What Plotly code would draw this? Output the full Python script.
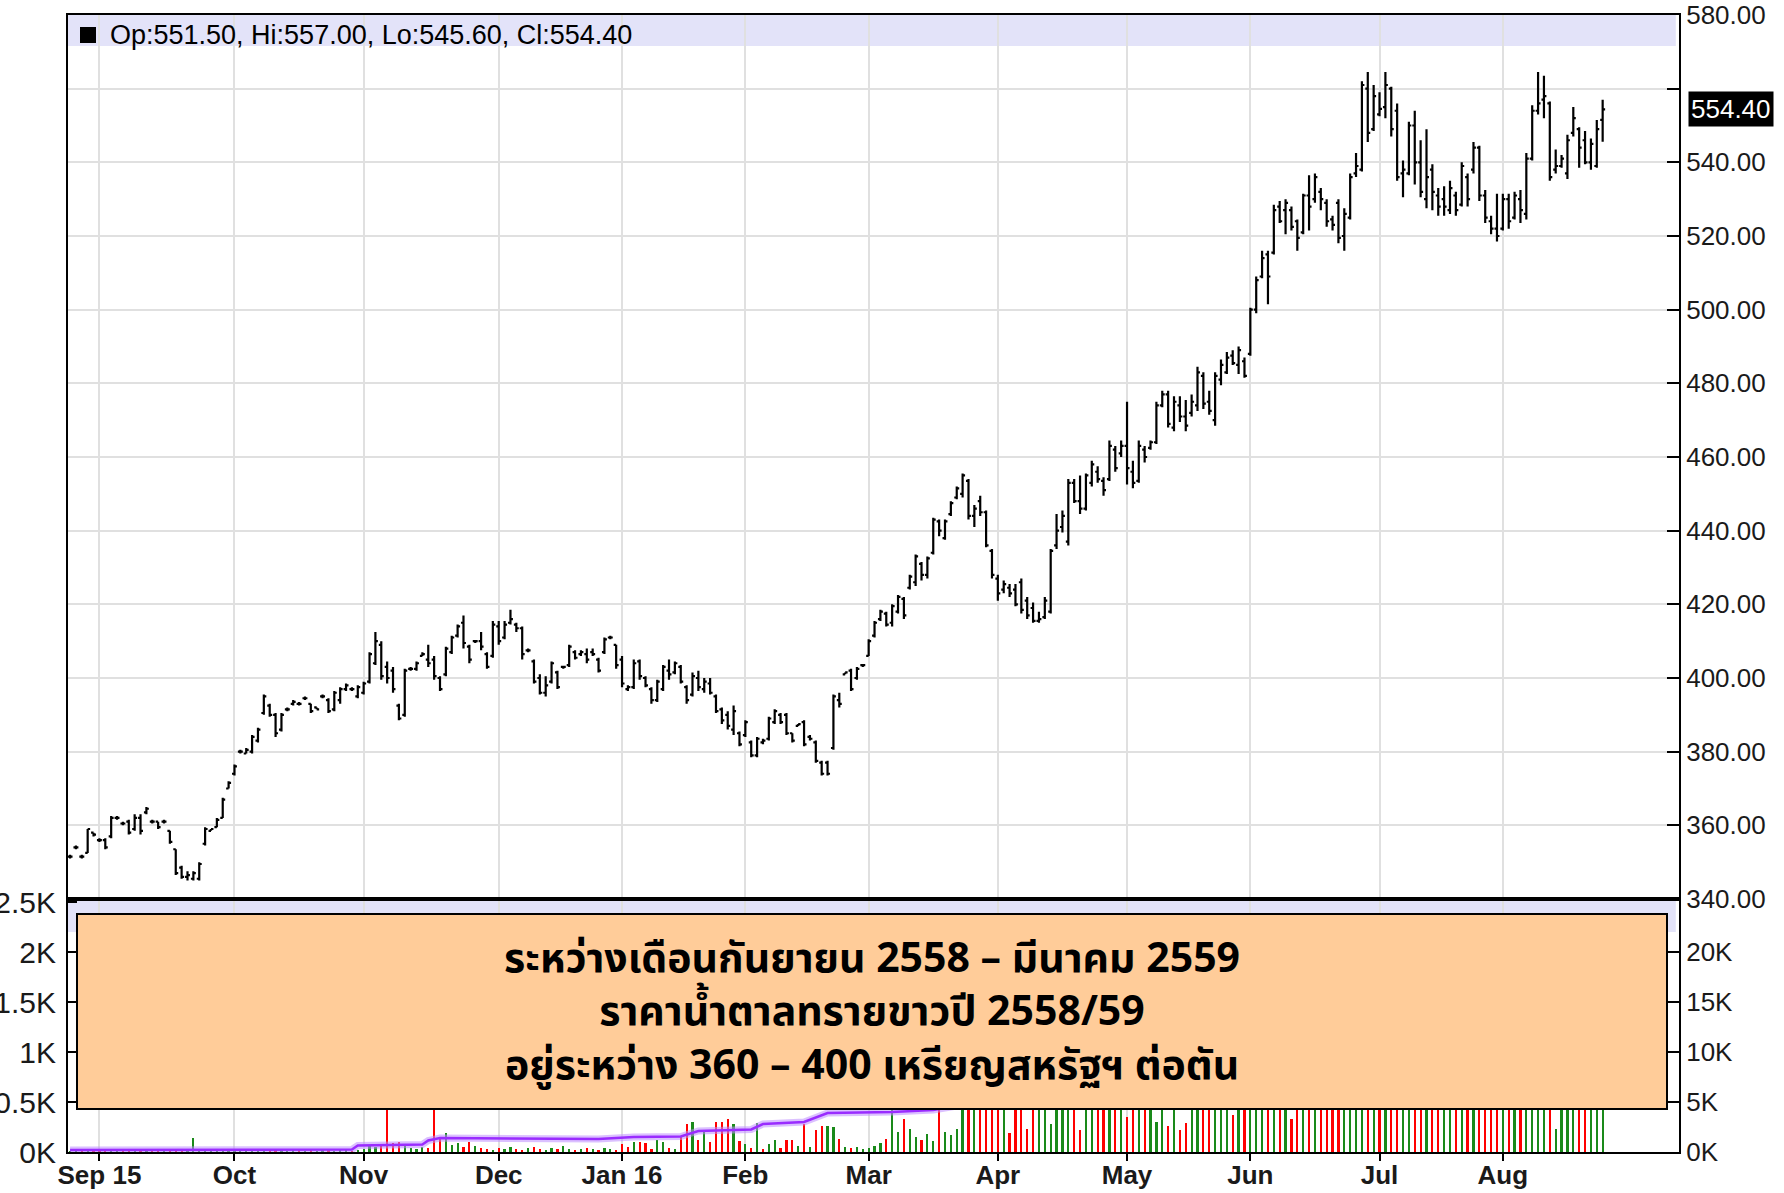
import plotly.graph_objects as go

# ---------------- data ----------------
highs = [
 352,354.5,352,359,358,356.5,356.5,362.5,362.5,361,
 361.5,363,363,365,361.5,361,361.5,358.5,353.5,349,
 347.5,347.5,350,359.5,359,362,367.5,372,376.5,380.5,
 381,384.5,386.5,395.5,393,390.5,390.5,392,394,393.5,
 395,393,392,395.5,394.5,396.5,397.5,398.5,397.5,398,
 399,407,412.5,410,404.5,403,393,402.5,403,404.5,
 407,409,406,400.5,408.5,411.5,414.5,417,409,410,
 412.5,407,415.5,415.5,415.5,418.5,415,414,408,405,
 401,400.5,404.5,402,403,409,407.5,407.5,408,408,
 405.5,411,411.5,409,406,398,405,405,400.5,397.5,
 399.5,403.5,405,404.5,403.5,398,401.5,402,400,400,
 395.5,392,391,392.5,385.5,388.5,383,384,383.5,389.5,
 391.5,390.5,390.5,385,387.5,388.5,384.5,383,377.5,377.5,
 395.5,396,401.5,402.5,403,403.5,410.5,415.5,418.5,418,
 420,422.5,422,428,433.5,431.5,433,443.5,443,443,
 448,452,455.5,454,447,449.5,445.5,435,428,426.5,
 425.5,425.5,427,422,420.5,418,422,435,444.5,445.5,
 454,454,455,455.5,459,457.5,454.5,464.5,463,464.5,
 475,459,464.5,463,464.5,475,478,478,476.5,476.5,
 475.5,477,484.5,483,478,483,486.5,488.5,489,490,
 487,500.5,509,516,516,528.5,529.5,530,528,524.5,
 531.5,536.5,537,533,530,525.5,530,527.5,537,542.5,
 562,564.5,561,559,564.5,560.5,556,540.5,551,554,
 546,549,539.5,533,533.5,535,532,540,537,545.5,
 544.5,532.5,525.5,531.5,531.5,531.5,532,532.5,542.5,555.5,
 564.5,563.5,556.5,543.5,542,547.5,555,549.5,548.5,546.5,
 551.5,557]
lows = [
 351,353.5,351,352.5,357,355.5,353.5,356.5,361.5,360,
 357.5,358.5,357.5,363,360.5,359,360.5,355,346.5,345.5,
 345,345,345,354.5,358.5,359.5,362,370,373.5,379.5,
 379.5,379.5,382.5,390,389.5,384,385.5,391,392.5,392.5,
 394,390.5,391.5,394.5,390.5,391,393,396.5,396.5,394.5,
 395.5,398.5,403.5,399.5,398.5,396,388.5,389.5,402,402,
 406,403,399.5,396.5,400.5,406.5,411,408,404,409.5,
 407.5,402.5,405.5,409,410.5,414.5,412.5,405,407,398.5,
 395.5,395,398.5,397,402.5,403,405,406,404,406,
 401.5,406.5,410.5,402.5,397.5,396.5,397,399.5,397.5,393,
 393.5,396.5,399.5,401,398.5,393,395,396.5,396,395.5,
 390.5,387.5,386,384.5,381.5,384,378.5,378.5,382,383,
 387.5,387.5,384.5,382.5,387,381.5,383,377,373.5,373.5,
 380.5,392,401,396.5,399.5,403,406,411,415.5,414,
 414,417.5,416,424,425,426.5,427,433.5,438.5,437.5,
 444,448.5,449,443,441,444,435.5,427,421,423,
 422,419.5,417.5,416,415,415,416,417.5,435,439.5,
 436,447.5,444.5,445.5,452,453,449.5,453.5,456,460,
 452.5,451.5,453,458.5,462,463.5,473.5,468,467,469.5,
 467,471,472.5,473,471.5,468.5,479.5,482.5,485,482.5,
 481.5,487.5,499,508.5,501.5,515,523.5,520.5,521.5,516,
 520.5,521.5,529,527,522.5,521.5,518,516,524.5,536,
 537.5,545.5,548.5,552.5,552,547,535,530.5,536.5,534,
 530.5,527.5,527,525.5,525.5,526,525.5,528,528,537,
 529.5,523.5,520.5,518.5,521.5,522,524.5,523.5,524.5,540.5,
 553,552,535,537,538.5,535.5,547,538.5,539.5,538,
 538.5,545.6]
opens = [
 351.5,354,351.5,352.5,358,356,356,357,362,360.5,
 361,359,362,363.5,361,361,361,358.5,353.5,348.5,
 346,345.5,345.5,355,358.5,359.5,362,370,374,380,
 379.5,380,383,390.5,392.5,390,386,391.5,393,393,
 394.5,393,392,395,394,391.5,394,397,397,395,
 396,399,404,409,403,402,392.5,390,402.5,402.5,
 406,405,405,400,401,407,411.5,415,408.5,410,
 410,406.5,406,414,411,415,414.5,413.5,407.5,404.5,
 400,396,399,401.5,403,403.5,407,406.5,406.5,407,
 405,407,411,409,405,397,397.5,404.5,400,397,
 394,397,402,401.5,403,397.5,395.5,400,397,398.5,
 395,391.5,390,386,385,384.5,382.5,379,382.5,383.5,
 388,390,390,385,387,388,384,382.5,377,377,
 381,394,401,402,400,403.5,406,411.5,416,417.5,
 415,418,421.5,424.5,426,431,428,434,442.5,438,
 444.5,449,450,453.5,444,448,445,434.5,427,424,
 424.5,424,426,421,419,415.5,416.5,418,436,441,
 437,453,448,446,453,456,453.5,454,462,461,
 463,456,453.5,462,462.5,464,474,477,468,474,
 471,472,474,482,475,470,481,483,487.5,485,
 486,488,500,509,515,515.5,528,527,527,524,
 521,531,530,532,529,524.5,529,520,525,537,
 538,560,549,553,555,560,554,537,537,550,
 540,530,538,531,530,527,531,528.5,536,538,
 544,531,524,522,522,530,525,530,526,541,
 554,557,556,538,539,537,548,549,546,540,
 539,551.5]
closes = [
 351.5,354,351.5,359,357.5,356,354,362,362,360.5,
 358,362,358.5,364.5,361,359.5,361,355.5,347,346,
 346.5,347,349.5,359,359,361.5,367,371.5,376,380,
 380.5,384,386,395,390,385,390,391.5,393.5,393,
 394.5,391,391.5,395,391,396,397,398,397,397.5,
 398.5,406.5,410,400.5,400,397,389,402,402.5,404,
 406.5,404,400.5,397,408,411,414,409.5,405,410,
 408.5,403,414.5,410,414.5,416,413.5,406.5,407.5,399,
 396,398,404,397.5,403,408.5,405.5,407,405,406.5,
 402,410.5,411,403.5,398.5,397.5,404,400.5,398,394,
 399,403,401,404,399,394,400.5,397.5,399,396,
 391,388.5,387,391,382,388,379,383.5,383,389,
 391,388,385,383,387.5,382,383.5,377.5,374,374,
 395,393,401.5,397,402.5,403.5,410,415,418,414.5,
 419.5,422,417,427.5,433,428,432.5,443,440,442.5,
 447.5,451.5,455,444,446,445,436,428,423,425.5,
 423,420,418.5,417,415.5,416,421,434.5,440,444,
 453,448,446,455,458,454,451,463,457,463,
 457,453,463,460,464,474,477,469,475,471,
 468.5,475,483,474.5,472.5,482,485,487,485.5,489,
 482,500,508,514,509,527,524,529,522.5,519.5,
 531,528,536,530,524,523,519.5,526,536,539,
 561,548,558,554.5,561,549,536,538,550,540,
 532,536,532,528,528,533,527,539,530,544,
 531,525,522,520,530,524,531,527,541,554,
 556,558,536,539,541,546,552,544,540,545,
 549,554.4]
volumes = [
 100,150,100,200,120,100,150,300,100,120,
 150,100,300,150,100,120,100,150,200,300,
 250,1400,150,200,300,150,100,200,150,120,
 100,150,200,250,200,150,200,100,150,120,
 100,150,100,200,150,100,120,150,100,200,
 300,700,500,800,5800,900,1000,600,400,300,
 500,400,6000,1500,1900,700,900,500,1000,600,
 400,300,200,400,300,500,300,200,400,500,
 300,200,400,300,600,300,200,300,400,300,
 200,400,300,200,800,500,1000,1000,900,300,
 1200,1000,400,300,1500,2800,3000,1200,2200,1000,
 3000,3000,3300,2800,1100,800,400,2900,300,800,
 1200,400,1200,1200,600,2800,500,2200,2600,2600,
 2500,1300,500,400,500,300,400,600,900,1300,
 6500,2000,3300,2300,1500,1200,1800,1100,7000,2000,
 1700,2300,7500,9000,10000,11000,12000,9000,10500,8000,
 1900,9500,11000,2300,9000,8500,10000,2800,9000,12000,
 8000,9500,2200,10000,9000,11000,8500,9500,10000,8000,
 3500,9000,10500,9500,11000,3000,8500,2600,9000,2200,
 2900,8000,9500,10000,9000,11000,9500,8500,3700,10000,
 9000,11000,12000,10500,9500,9000,10000,8500,3300,9500,
 10000,9000,8500,9500,10000,11000,9000,8500,10000,12000,
 14000,13000,11000,10000,12000,11000,10500,9500,10000,9000,
 9500,10000,8500,9000,9500,8000,9000,10500,9500,10000,
 11000,9500,10000,9000,8500,9000,9500,10000,11000,12000,
 13000,11000,10500,2300,9000,9500,10000,8500,9000,9500,
 10000,9000]
oi_bar = [0, 48, 49, 60, 61, 63, 90, 96, 104, 107, 116, 118, 125, 129, 140, 147, 160, 200, 261]
oi_val = [200, 250, 650, 750, 1150, 1400, 1300, 1500, 1550, 2100, 2250, 2800, 3000, 3900, 4000, 4200, 5500, 9000, 12000]

month_first_bar = [5, 28, 50, 73, 94, 115, 136, 158, 180, 201, 223, 244]
month_labels = ["Sep 15", "Oct", "Nov", "Dec", "Jan 16", "Feb", "Mar", "Apr", "May", "Jun", "Jul", "Aug"]
price_ticks = [340, 360, 380, 400, 420, 440, 460, 480, 500, 520, 540, 560, 580]
price_labels = ["340.00", "360.00", "380.00", "400.00", "420.00", "440.00", "460.00", "480.00",
                "500.00", "520.00", "540.00", "", "580.00"]
vol_ticks = [0, 5000, 10000, 15000, 20000]
vol_labels = ["0K", "5K", "10K", "15K", "20K"]
oi_ticks = [0, 500, 1000, 1500, 2000, 2500]
oi_labels = ["0K", "0.5K", "1K", "1.5K", "2K", "2.5K"]
legend_text = "Op:551.50, Hi:557.00, Lo:545.60, Cl:554.40"
last_price = 554.40
note_lines = ["ระหว่างเดือนกันยายน 2558 – มีนาคม 2559",
              "ราคาน้ำตาลทรายขาวปี 2558/59",
              "อยู่ระหว่าง 360 – 400 เหรียญสหรัฐฯ ต่อตัน"]

# ---------------- figure ----------------
n = len(closes)
xs = list(range(n))
vol_colors = ["#1a8a1a" if (i == 0 or closes[i] >= closes[i - 1]) else "#ff0000" for i in range(n)]

W, H = 1784, 1193
ML, MR, MT, MB = 68, 105, 15, 41
plot_h = H - MT - MB
split = (H - MB - 899) / plot_h  # price/volume boundary (paper fraction)
PPX = (W * 0 + 884) / 240.0      # price-panel pixels per price unit

def px_x(px):
    return (px - ML) / (W - ML - MR)

def px_y(py):
    return (H - MB - py) / plot_h

sans = "Liberation Sans, Arial, sans-serif"
tick_font = dict(family=sans, size=26, color="#1a1a1a")
grid_c = "#e0e0e0"

fig = go.Figure()
fig.add_trace(go.Ohlc(
    x=xs, open=opens, high=highs, low=lows, close=closes,
    xaxis="x2", yaxis="y",
    increasing=dict(line=dict(color="black", width=2.2)),
    decreasing=dict(line=dict(color="black", width=2.2)),
    tickwidth=0.42, hoverinfo="skip", showlegend=False))
fig.add_trace(go.Bar(
    x=xs, y=volumes, xaxis="x", yaxis="y2", width=0.38,
    marker=dict(color=vol_colors, line=dict(width=0)), showlegend=False))
fig.add_trace(go.Scatter(
    x=oi_bar, y=oi_val, xaxis="x", yaxis="y2", mode="lines",
    line=dict(color="rgba(190,140,255,0.55)", width=7), showlegend=False))
fig.add_trace(go.Scatter(
    x=oi_bar, y=oi_val, xaxis="x", yaxis="y2", mode="lines",
    line=dict(color="#9a2cff", width=2.5), showlegend=False))
# invisible trace to activate the left axis of the lower panel
fig.add_trace(go.Scatter(x=[0], y=[0], xaxis="x", yaxis="y3", mode="markers",
                         marker=dict(opacity=0), showlegend=False, hoverinfo="skip"))

xr = [-0.35, 274.0]
common_x = dict(range=xr, tickvals=month_first_bar, showgrid=True, gridcolor=grid_c, gridwidth=2,
                showline=True, linecolor="black", linewidth=2, zeroline=False, automargin=False,
                rangeslider=dict(visible=False))

fig.update_layout(
    width=W, height=H, margin=dict(l=ML, r=MR, t=MT, b=MB, pad=0, autoexpand=False),
    paper_bgcolor="white", plot_bgcolor="white", showlegend=False, bargap=0,
    xaxis=dict(domain=[0, 1], anchor="y2", ticktext=month_labels, ticks="outside", ticklen=7,
               tickwidth=2, tickcolor="black", ticklabelstandoff=-8,
               tickfont=dict(family=sans, size=26, color="#1a1a1a", weight="bold"),
               mirror=False, **common_x),
    xaxis2=dict(domain=[0, 1], anchor="y", matches="x", showticklabels=False, ticks="",
                mirror=True, **common_x),
    yaxis=dict(domain=[split, 1], anchor="x2", side="right", range=[340, 580],
               tickvals=price_ticks, ticktext=price_labels, ticks="inside", ticklen=12, tickwidth=2,
               tickcolor="black", tickfont=tick_font, showgrid=True, gridcolor=grid_c, gridwidth=2,
               showline=True, linecolor="black", linewidth=2, mirror=True, zeroline=False,
               automargin=False),
    yaxis2=dict(domain=[0, split], anchor="x", side="right", range=[0, 25300],
                tickvals=vol_ticks, ticktext=vol_labels, ticks="inside", ticklen=12, tickwidth=2,
                tickcolor="black", tickfont=tick_font, showgrid=False,
                showline=True, linecolor="black", linewidth=2, zeroline=False, automargin=False),
    yaxis3=dict(overlaying="y2", anchor="x", side="left", range=[0, 2530],
                tickvals=oi_ticks, ticktext=oi_labels, ticks="inside", ticklen=9, tickwidth=2,
                tickcolor="black", tickfont=dict(family=sans, size=30, color="#1a1a1a"),
                ticklabelstandoff=4,
                showgrid=False, showline=True, linecolor="black", linewidth=2, zeroline=False,
                automargin=False),
)

shapes = [
    # lavender header band of the price panel
    dict(type="rect", xref="paper", yref="y", x0=0, x1=0.998, y0=580 - 31 / PPX, y1=580,
         fillcolor="#e3e3f9", line=dict(width=0), layer="below"),
    # lavender header band of the volume panel
    dict(type="rect", xref="paper", yref="y2", x0=0, x1=0.998, y0=22000, y1=25300,
         fillcolor="#e3e3f9", line=dict(width=0), layer="below"),
    # black legend square
    dict(type="rect", xref="paper", yref="y", x0=px_x(80), x1=px_x(96),
         y0=580 - 28 / PPX, y1=580 - 12 / PPX, fillcolor="black", line=dict(width=0),
         layer="above"),
    # thick separator
    dict(type="line", xref="paper", yref="paper", x0=0, x1=1, y0=split, y1=split,
         line=dict(color="black", width=4), layer="above"),
    # orange note box
    dict(type="rect", xref="paper", yref="paper", x0=px_x(77), x1=px_x(1667),
         y0=px_y(1109), y1=px_y(914), fillcolor="#ffcc99",
         line=dict(color="black", width=2), layer="above"),
]
fig.update_layout(shapes=shapes)

annotations = [
    dict(xref="paper", yref="y", x=px_x(108), y=580 - 20 / PPX, xanchor="left", yanchor="middle",
         text=legend_text, showarrow=False,
         font=dict(family=sans, size=27, color="black")),
    dict(xref="paper", yref="y", x=px_x(1688), y=last_price, xanchor="left", yanchor="middle",
         text=f"{last_price:.2f}", showarrow=False, bgcolor="black", borderpad=2,
         font=dict(family=sans, size=26, color="white")),
]
thai_font = "Tahoma, 'Noto Sans Thai', 'Noto Sans Thai UI', Loma, Garuda, Sarabun, 'Noto Sans', sans-serif"
annotations.append(dict(xref="paper", yref="paper", x=px_x(872), y=px_y(1012),
                        xanchor="center", yanchor="middle",
                        text="<br>".join(f"<b>{ln}</b>" for ln in note_lines),
                        showarrow=False, align="center",
                        font=dict(family=thai_font, size=41, color="black")))
fig.update_layout(annotations=annotations)

fig.write_html("out.html", config={"displayModeBar": False},
               post_script="document.body.style.margin='0';document.body.style.overflow='hidden';")
